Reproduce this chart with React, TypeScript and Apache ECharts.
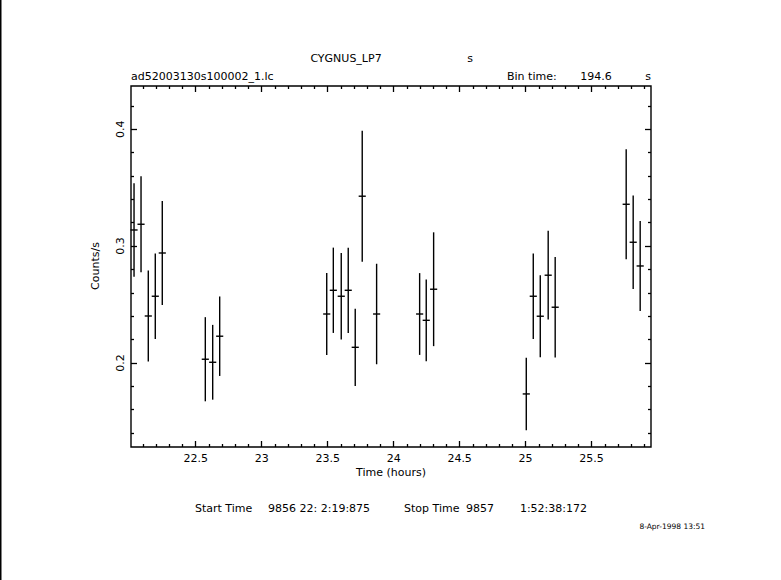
import React, { useEffect, useRef } from "react";
import * as echarts from "echarts";

// Light curve data (time in hours, counts/s, 1-sigma error)
const times = [
  22.033, 22.086, 22.141, 22.194, 22.247,
  22.573, 22.629, 22.682,
  23.493, 23.543, 23.603, 23.656, 23.709, 23.762, 23.871,
  24.197, 24.247, 24.303,
  25.005, 25.058, 25.111, 25.171, 25.224,
  25.762, 25.815, 25.868,
];
const rates = [
  0.3138, 0.3187, 0.2402, 0.2571, 0.2941,
  0.2032, 0.2006, 0.2229,
  0.2419, 0.2622, 0.2571, 0.2622, 0.2134, 0.3427, 0.2419,
  0.2419, 0.2365, 0.2631,
  0.1735, 0.2571, 0.24, 0.2751, 0.2477,
  0.3358, 0.3033, 0.283,
];
const errors = [
  0.04, 0.041, 0.039, 0.0365, 0.0444,
  0.036, 0.032, 0.034,
  0.035, 0.0365, 0.037, 0.0365, 0.033, 0.056, 0.043,
  0.035, 0.035, 0.0487,
  0.031, 0.0365, 0.035, 0.038, 0.043,
  0.047, 0.04, 0.0385,
];
const binTimeSec = 194.6;

const xMajorTicks = [22.5, 23, 23.5, 24, 24.5, 25, 25.5];
const xMinorTicks = [
  22.1, 22.2, 22.3, 22.4, 22.6, 22.7, 22.8, 22.9, 23.1, 23.2, 23.3, 23.4,
  23.6, 23.7, 23.8, 23.9, 24.1, 24.2, 24.3, 24.4, 24.6, 24.7, 24.8, 24.9,
  25.1, 25.2, 25.3, 25.4, 25.6, 25.7, 25.8, 25.9,
];
const yMajorTicks = [0.2, 0.3, 0.4];
const yMinorTicks = [
  0.14, 0.16, 0.18, 0.22, 0.24, 0.26, 0.28, 0.32, 0.34, 0.36, 0.38, 0.42,
];

const X_MIN = 22.01;
const X_MAX = 25.95;
const Y_MIN = 0.1281;
const Y_MAX = 0.437;

const FONT = "DejaVu Sans";

export default function App() {
  const ref = useRef<HTMLDivElement>(null);

  useEffect(() => {
    if (!ref.current) return;
    const chart = echarts.init(ref.current, null, { renderer: "svg" });
    const half = binTimeSec / 3600 / 2;
    const data = times.map((t, i) => [t, rates[i], errors[i]]);

    const baseX = (position: string, ticks: number[], len: number, labels: boolean) => ({
      type: "value",
      min: X_MIN,
      max: X_MAX,
      position,
      axisLine: { show: false },
      splitLine: { show: false },
      axisTick: {
        show: true,
        inside: true,
        length: len,
        customValues: ticks,
        lineStyle: { color: "#000", width: 1.3 },
      },
      axisLabel: labels
        ? {
            show: true,
            customValues: ticks,
            color: "#000",
            fontFamily: FONT,
            fontSize: 11,
            margin: 6,
          }
        : { show: false },
    });
    const baseY = (position: string, ticks: number[], len: number, labels: boolean) => ({
      type: "value",
      min: Y_MIN,
      max: Y_MAX,
      position,
      axisLine: { show: false },
      splitLine: { show: false },
      axisTick: {
        show: true,
        inside: true,
        length: len,
        customValues: ticks,
        lineStyle: { color: "#000", width: 1.3 },
      },
      axisLabel: labels
        ? {
            show: true,
            customValues: ticks,
            color: "#000",
            fontFamily: FONT,
            fontSize: 11,
            rotate: 90,
            margin: 5,
          }
        : { show: false },
    });

    const textStyle = (size = 11) => ({
      fill: "#000",
      font: `${size}px "${FONT}"`,
    });

    chart.setOption({
      animation: false,
      backgroundColor: "#fff",
      grid: {
        left: 131,
        top: 86,
        right: 130,
        bottom: 133,
        show: true,
        borderColor: "#000",
        borderWidth: 1.4,
        backgroundColor: "transparent",
      },
      xAxis: [
        baseX("bottom", xMajorTicks, 6, true),
        baseX("bottom", xMinorTicks, 3, false),
        baseX("top", xMajorTicks, 6, false),
        baseX("top", xMinorTicks, 3, false),
      ],
      yAxis: [
        baseY("left", yMajorTicks, 6, true),
        baseY("left", yMinorTicks, 3, false),
        baseY("right", yMajorTicks, 6, false),
        baseY("right", yMinorTicks, 3, false),
      ],
      series: [
        {
          type: "custom",
          xAxisIndex: 0,
          yAxisIndex: 0,
          data,
          encode: { x: 0, y: 1 },
          renderItem: (params: any, api: any) => {
            const t = api.value(0);
            const v = api.value(1);
            const e = api.value(2);
            const top = api.coord([t, v + e]);
            const bot = api.coord([t, v - e]);
            const l = api.coord([t - half, v]);
            const r = api.coord([t + half, v]);
            const st = { stroke: "#000", lineWidth: 1.4 };
            return {
              type: "group",
              children: [
                { type: "line", shape: { x1: top[0], y1: top[1], x2: bot[0], y2: bot[1] }, style: st },
                { type: "line", shape: { x1: l[0], y1: l[1], x2: r[0], y2: r[1] }, style: st },
              ],
            };
          },
        },
      ],
      graphic: [
        { type: "rect", shape: { x: 0, y: 0, width: 1.5, height: 580 }, style: { fill: "#000" } },
        { type: "text", x: 346, y: 58, style: { ...textStyle(), text: "CYGNUS_LP7", align: "center", verticalAlign: "middle" } },
        { type: "text", x: 470, y: 58, style: { ...textStyle(), text: "s", align: "center", verticalAlign: "middle" } },
        { type: "text", x: 131, y: 76, style: { ...textStyle(), text: "ad52003130s100002_1.lc", align: "left", verticalAlign: "middle" } },
        { type: "text", x: 507, y: 76, style: { ...textStyle(), text: "Bin time:", align: "left", verticalAlign: "middle" } },
        { type: "text", x: 596, y: 76, style: { ...textStyle(), text: "194.6", align: "center", verticalAlign: "middle" } },
        { type: "text", x: 648, y: 76, style: { ...textStyle(), text: "s", align: "center", verticalAlign: "middle" } },
        { type: "text", x: 95, y: 266, rotation: Math.PI / 2, style: { ...textStyle(), text: "Counts/s", align: "center", verticalAlign: "middle" } },
        { type: "text", x: 391, y: 472, style: { ...textStyle(), text: "Time (hours)", align: "center", verticalAlign: "middle" } },
        { type: "text", x: 195, y: 508, style: { ...textStyle(), text: "Start Time", align: "left", verticalAlign: "middle" } },
        { type: "text", x: 268, y: 508, style: { ...textStyle(), text: "9856 22: 2:19:875", align: "left", verticalAlign: "middle" } },
        { type: "text", x: 404, y: 508, style: { ...textStyle(), text: "Stop Time", align: "left", verticalAlign: "middle" } },
        { type: "text", x: 466, y: 508, style: { ...textStyle(), text: "9857", align: "left", verticalAlign: "middle" } },
        { type: "text", x: 587, y: 508, style: { ...textStyle(), text: "1:52:38:172", align: "right", verticalAlign: "middle" } },
        { type: "text", x: 705, y: 526, style: { ...textStyle(7.5), text: "8-Apr-1998 13:51", align: "right", verticalAlign: "middle" } },
      ],
    });
    return () => chart.dispose();
  }, []);

  return (
    <div
      ref={ref}
      style={{ position: "fixed", left: 0, top: 0, width: 781, height: 580, background: "#fff" }}
    />
  );
}
